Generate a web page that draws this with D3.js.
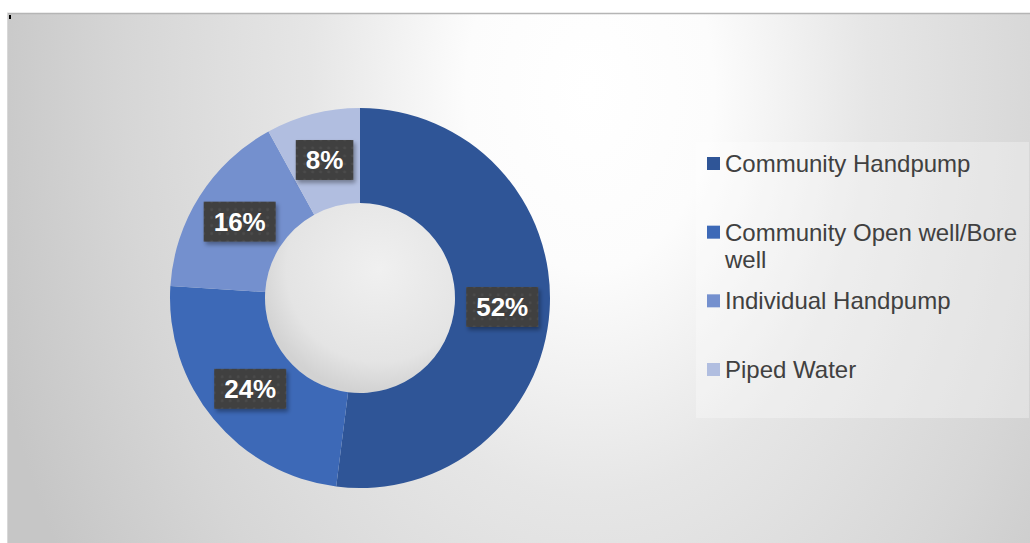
<!DOCTYPE html>
<html>
<head>
<meta charset="utf-8">
<script src="https://d3js.org/d3.v7.min.js"></script>
<style>
  body { margin: 0; background: #fff; font-family: Arial, "Liberation Sans", sans-serif; }
  svg { display: block; }
</style>
</head>
<body>
<svg id="chart" width="1030" height="543"></svg>
<script>
// data
const categories = ["Community Handpump", "Community Open well/Bore well", "Individual Handpump", "Piped Water"];
const values = [52, 24, 16, 8];
const colors = ["#2F5597", "#3D69B7", "#7490CE", "#B1BEE0"];

const W = 1030, H = 543;
const svg = d3.select("#chart");
const defs = svg.append("defs");

// chart background: elliptical grey gradient, light near the top centre
const bg = defs.append("radialGradient").attr("id", "bgGrad")
  .attr("gradientUnits", "userSpaceOnUse")
  .attr("cx", 0).attr("cy", 0).attr("r", 1)
  .attr("gradientTransform", "translate(590,90) scale(620,900)");
bg.append("stop").attr("offset", "0%").attr("stop-color", "#ffffff");
bg.append("stop").attr("offset", "20%").attr("stop-color", "#fcfcfc");
bg.append("stop").attr("offset", "45%").attr("stop-color", "#e6e6e6");
bg.append("stop").attr("offset", "75%").attr("stop-color", "#d6d6d6");
bg.append("stop").attr("offset", "100%").attr("stop-color", "#c6c6c6");

// hole shading
const hole = defs.append("radialGradient").attr("id", "holeGrad")
  .attr("cx", "0.6").attr("cy", "0.35").attr("r", "0.65");
hole.append("stop").attr("offset", "0%").attr("stop-color", "#f0f0f0");
hole.append("stop").attr("offset", "75%").attr("stop-color", "#e4e4e4");
hole.append("stop").attr("offset", "100%").attr("stop-color", "#d2d2d2");

// dotted pattern for the label boxes
const pat = defs.append("pattern").attr("id", "dots")
  .attr("width", 8).attr("height", 8).attr("patternUnits", "userSpaceOnUse");
pat.append("rect").attr("width", 8).attr("height", 8).attr("fill", "#404040");
pat.append("circle").attr("cx", 4).attr("cy", 4).attr("r", 1.4).attr("fill", "#4c4c4c");

const shadow = defs.append("filter").attr("id", "shadow")
  .attr("x", "-20%").attr("y", "-20%").attr("width", "150%").attr("height", "160%");
shadow.append("feDropShadow").attr("dx", 2).attr("dy", 3).attr("stdDeviation", 2)
  .attr("flood-color", "#000").attr("flood-opacity", 0.35);

// plot frame
const frame = { x: 7, y: 13, w: W - 7, h: H - 13 };
svg.append("rect")
  .attr("x", frame.x).attr("y", frame.y).attr("width", frame.w).attr("height", frame.h)
  .attr("fill", "url(#bgGrad)");
svg.append("line")
  .attr("x1", frame.x).attr("x2", W).attr("y1", frame.y + 0.5).attr("y2", frame.y + 0.5)
  .attr("stroke", "#b5b5b5").attr("stroke-width", 1.5);
svg.append("line")
  .attr("x1", frame.x + 0.5).attr("x2", frame.x + 0.5).attr("y1", frame.y).attr("y2", H)
  .attr("stroke", "#d8d8d8").attr("stroke-width", 1);
svg.append("rect").attr("x", 9).attr("y", 15).attr("width", 2).attr("height", 4).attr("fill", "#000");

// donut
const cx = 360, cy = 298, outerR = 190, innerR = 95;
const g = svg.append("g").attr("transform", `translate(${cx},${cy})`);

const pie = d3.pie().sort(null).value(d => d);
const arc = d3.arc().innerRadius(innerR).outerRadius(outerR);
const arcs = pie(values);

g.append("circle").attr("r", innerR).attr("fill", "url(#holeGrad)");

g.selectAll("path.slice")
  .data(arcs)
  .enter().append("path")
  .attr("class", "slice")
  .attr("d", arc)
  .attr("fill", (d, i) => colors[i]);

// data labels
const labels = g.selectAll("g.lbl")
  .data(arcs)
  .enter().append("g")
  .attr("class", "lbl")
  .attr("transform", d => `translate(${arc.centroid(d)})`);

labels.append("text")
  .attr("text-anchor", "middle")
  .attr("dy", "0.36em")
  .attr("fill", "#fff")
  .attr("font-size", 26)
  .attr("font-weight", "bold")
  .text(d => d.data + "%");

labels.each(function () {
  const t = d3.select(this).select("text");
  const bw = t.node().getComputedTextLength() + 20;
  d3.select(this).insert("rect", "text")
    .attr("x", -bw / 2).attr("y", -20)
    .attr("width", bw).attr("height", 40)
    .attr("fill", "url(#dots)")
    .attr("filter", "url(#shadow)");
});

// legend
const legend = svg.append("g");
legend.append("rect")
  .attr("x", 696).attr("y", 142).attr("width", 333).attr("height", 276)
  .attr("fill", "#ffffff").attr("fill-opacity", 0.3);

const ly = d3.scaleLinear().domain([0, categories.length - 1]).range([172, 378]);
const items = legend.selectAll("g.item")
  .data(categories)
  .enter().append("g")
  .attr("class", "item")
  .attr("transform", (d, i) => `translate(707,${ly(i)})`);

items.append("rect")
  .attr("x", 0).attr("y", -15).attr("width", 13).attr("height", 13)
  .attr("fill", (d, i) => colors[i]);

items.append("text")
  .attr("x", 18)
  .attr("fill", "#404040")
  .attr("font-size", 24)
  .each(function (d) {
    const t = d3.select(this);
    const words = d.split(" ");
    let line = [], tspan = t.append("tspan").attr("x", 18).attr("dy", 0);
    words.forEach(w => {
      line.push(w);
      tspan.text(line.join(" "));
      if (tspan.node().getComputedTextLength() > 300 && line.length > 1) {
        line.pop();
        tspan.text(line.join(" "));
        line = [w];
        tspan = t.append("tspan").attr("x", 18).attr("dy", 27).text(w);
      }
    });
  });
</script>
</body>
</html>
